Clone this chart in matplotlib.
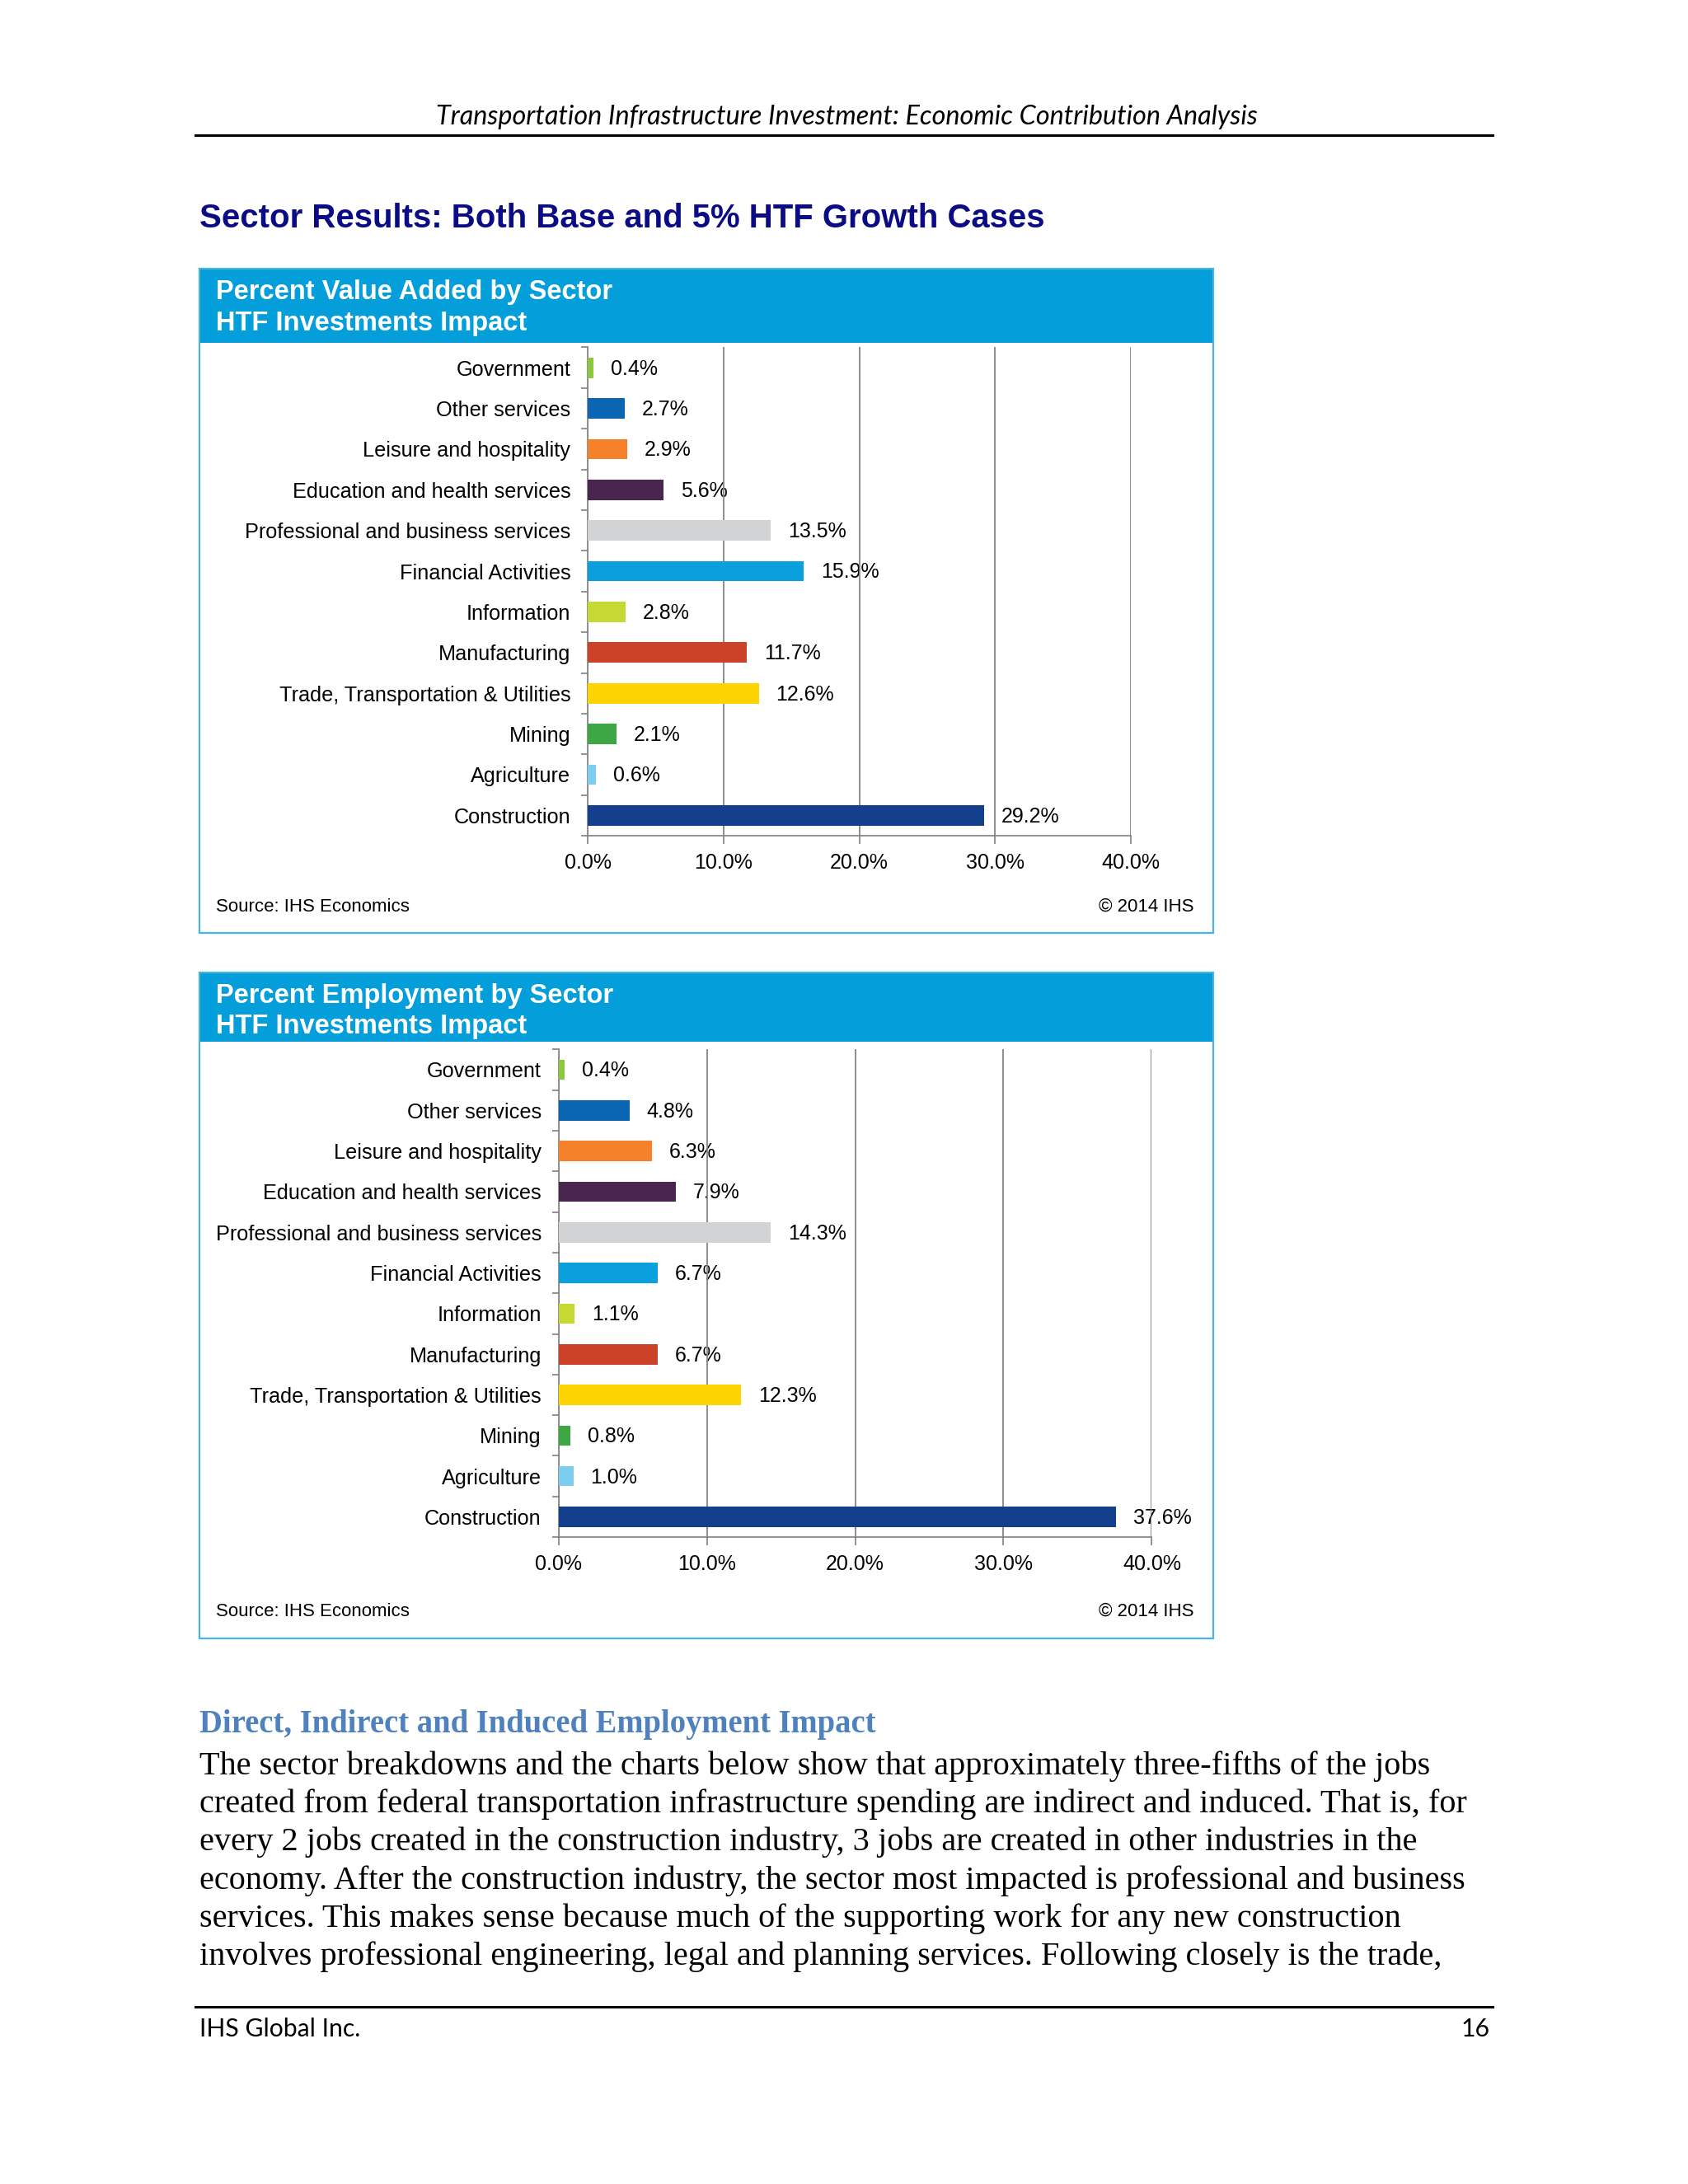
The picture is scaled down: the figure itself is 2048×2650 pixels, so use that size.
import matplotlib
matplotlib.use("Agg")
import matplotlib.pyplot as plt
from matplotlib.patches import Rectangle
from matplotlib.lines import Line2D

sectors = ["Government", "Other services", "Leisure and hospitality",
           "Education and health services", "Professional and business services",
           "Financial Activities", "Information", "Manufacturing",
           "Trade, Transportation & Utilities", "Mining", "Agriculture", "Construction"]
value_added = [0.4, 2.7, 2.9, 5.6, 13.5, 15.9, 2.8, 11.7, 12.6, 2.1, 0.6, 29.2]
employment = [0.4, 4.8, 6.3, 7.9, 14.3, 6.7, 1.1, 6.7, 12.3, 0.8, 1.0, 37.6]
bar_colors = ["#8DC63F", "#0A66B2", "#F5822A", "#4A2550", "#D1D3D4", "#0AA0DE",
              "#C5D932", "#CB4228", "#FDD300", "#3DA843", "#7DCDF1", "#143F8C"]
x_ticks = [0, 10, 20, 30, 40]
x_tick_labels = ["0.0%", "10.0%", "20.0%", "30.0%", "40.0%"]

body_lines = [
    "The sector breakdowns and the charts below show that approximately three-fifths of the jobs",
    "created from federal transportation infrastructure spending are indirect and induced. That is, for",
    "every 2 jobs created in the construction industry, 3 jobs are created in other industries in the",
    "economy. After the construction industry, the sector most impacted is professional and business",
    "services. This makes sense because much of the supporting work for any new construction",
    "involves professional engineering, legal and planning services. Following closely is the trade,",
]

W0, H0 = 1212.0, 1568.0


def px(x):
    return x / W0


def py(y):
    return 1 - y / H0


fig = plt.figure(figsize=(20.48, 26.5), dpi=100)
fig.patch.set_facecolor("white")

sans = "Liberation Sans"
serif = "Liberation Serif"

# page header
fig.text(px(608), py(84), "Transportation Infrastructure Investment: Economic Contribution Analysis",
         ha="center", va="center", fontsize=23.3, style="italic", family="Lato")
fig.add_artist(Line2D([px(140), px(1072)], [py(97), py(97)], color="black", lw=2.2))

fig.text(px(143), py(157), "Sector Results: Both Base and 5% HTF Growth Cases",
         ha="left", va="center", fontsize=28.9, fontweight="bold", color="#0B0B85", family=sans)


def chart(top, bottom, band, title, values, ax_l, ax_r, ax_t, ax_b):
    fig.add_artist(Rectangle((px(143), py(band)), px(871) - px(143), py(top) - py(band),
                             transform=fig.transFigure, facecolor="#049EDB", edgecolor="none"))
    fig.add_artist(Rectangle((px(143), py(bottom)), px(871) - px(143), py(top) - py(bottom),
                             transform=fig.transFigure, fill=False, edgecolor="#47B5DC", lw=1.6))
    fig.text(px(155), py(top + 17), title, color="white", fontsize=23.5, fontweight="bold",
             family=sans, va="center")
    fig.text(px(155), py(top + 39), "HTF Investments Impact", color="white", fontsize=23.5,
             fontweight="bold", family=sans, va="center")
    fig.text(px(155), py(bottom - 19), "Source: IHS Economics", fontsize=16, family=sans,
             va="center")
    fig.text(px(857), py(bottom - 19), "\u00a9 2014 IHS", fontsize=16, family=sans,
             va="center", ha="right")

    ax = fig.add_axes([px(ax_l), py(ax_b), px(ax_r) - px(ax_l), py(ax_t) - py(ax_b)])
    ypos = list(range(len(sectors)))
    ax.barh(ypos, values, height=0.5, color=bar_colors, zorder=3)
    for y, v in zip(ypos, values):
        ax.annotate(f"{v:.1f}%", (v, y), xytext=(15, -1), textcoords="offset points",
                    va="center", ha="left", fontsize=18, family=sans, zorder=1)
    ax.set_xlim(0, 40)
    ax.set_ylim(len(sectors) - 0.5, -0.5)
    ax.set_xticks(x_ticks)
    ax.set_xticklabels(x_tick_labels, family=sans, fontsize=18)
    ax.set_yticks(ypos)
    ax.set_yticklabels(sectors, family=sans, fontsize=18.2)
    ax.set_yticks([i + 0.5 for i in range(-1, len(sectors))], minor=True)
    ax.tick_params(axis="y", which="major", length=0, pad=15)
    ax.tick_params(axis="y", which="minor", length=6, color="#808080", width=1.2)
    ax.tick_params(axis="x", length=7, color="#808080", width=1.2, pad=8)
    ax.grid(axis="x", color="#858585", lw=1.3, zorder=2)
    ax.set_axisbelow(False)
    for s in ["top", "right"]:
        ax.spines[s].set_visible(False)
    ax.spines["left"].set_color("#808080")
    ax.spines["bottom"].set_color("#808080")
    ax.spines["left"].set_linewidth(1.2)
    ax.spines["bottom"].set_linewidth(1.2)
    ax.patch.set_alpha(0)
    return ax


chart(193, 670, 246, "Percent Value Added by Sector", value_added, 422, 812, 249.4, 600)
chart(698, 1176, 748, "Percent Employment by Sector", employment, 401, 827, 753.4, 1103.6)

fig.text(px(143), py(1238), "Direct, Indirect and Induced Employment Impact",
         fontsize=27.8, fontweight="bold", color="#4F81BD", family=serif, va="center")
for i, line in enumerate(body_lines):
    fig.text(px(143), py(1268 + i * 27.4), line, fontsize=29, family=serif, va="center")

fig.add_artist(Line2D([px(140), px(1072)], [py(1441), py(1441)], color="black", lw=2.2))
fig.text(px(143), py(1457), "IHS Global Inc.", fontsize=21.7, family="Lato", va="center")
fig.text(px(1070), py(1457), "16", fontsize=21.7, family="Lato", va="center", ha="right")

fig.savefig("out.png", dpi=100)
